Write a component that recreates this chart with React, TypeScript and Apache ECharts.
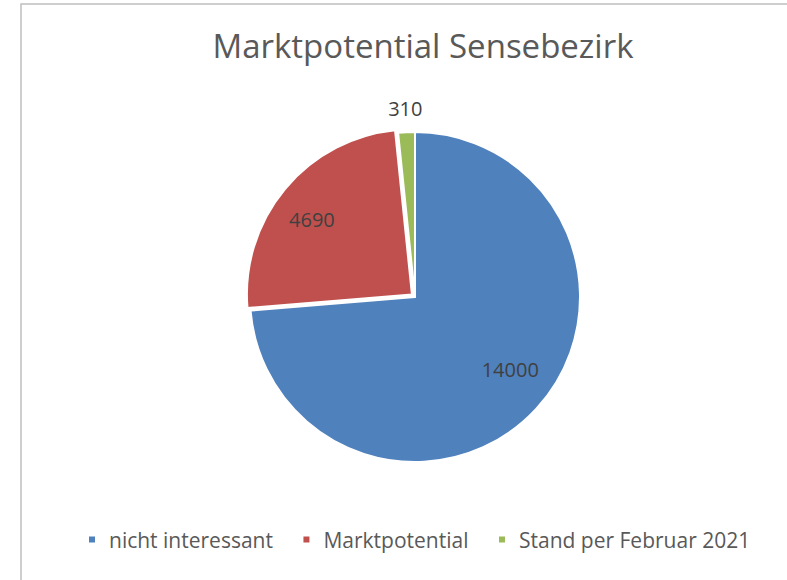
import React, { useEffect, useRef } from "react";
import * as echarts from "echarts";

const title = "Marktpotential Sensebezirk";
const categories = ["nicht interessant", "Marktpotential", "Stand per Februar 2021"];
const values = [14000, 4690, 310];
const colors = ["#4F81BD", "#C0504D", "#9BBB59"];
const insideLabelled = [true, true, false];

export default function App() {
  const ref = useRef<HTMLDivElement>(null);
  useEffect(() => {
    if (!ref.current) return;
    const chart = echarts.init(ref.current, undefined, { renderer: "svg" });
    const font = "'Open Sans', 'Noto Sans', sans-serif";
    const baseData = categories.map((name, i) => ({
      name,
      value: values[i],
      itemStyle: { color: colors[i] },
    }));
    const labelStyle = {
      position: "inside",
      formatter: "{c}",
      fontFamily: font,
      fontSize: 20,
      color: "#404040",
    };
    chart.setOption({
      animation: false,
      backgroundColor: "#ffffff",
      title: {
        text: title,
        left: 418,
        textAlign: "center",
        top: 24,
        textStyle: { fontFamily: font, fontSize: 33, fontWeight: "normal", color: "#595959" },
      },
      legend: {
        data: categories,
        bottom: 25,
        left: 82,
        icon: "rect",
        itemWidth: 8,
        itemHeight: 8,
        itemGap: 28.5,
        selectedMode: false,
        textStyle: { fontFamily: font, fontSize: 21, color: "#595959", padding: [0, 0, 0, 8] },
      },
      graphic: [
        {
          type: "rect",
          shape: { x: 21, y: 4, width: 800, height: 620 },
          style: { fill: "none", stroke: "#BFBFBF", lineWidth: 1.5 },
          silent: true,
        },
      ],
      series: [
        {
          type: "pie",
          center: [415, 297],
          radius: 165,
          startAngle: 90,
          clockwise: true,
          selectedMode: "multiple",
          selectedOffset: 4,
          label: { show: false },
          labelLine: { show: false },
          itemStyle: { borderColor: "#ffffff", borderWidth: 2 },
          emphasis: { disabled: true },
          data: baseData.map((d, i) => ({ ...d, selected: i === 1 })),
        },
        {
          type: "pie",
          center: [413, 292],
          radius: [78, 165],
          startAngle: 94,
          clockwise: true,
          silent: true,
          itemStyle: { color: "rgba(0,0,0,0)" },
          label: labelStyle,
          labelLine: { show: false },
          emphasis: { disabled: true },
          data: categories.map((name, i) => ({
            name,
            value: values[i],
            label: { show: insideLabelled[i] },
          })),
        },
        {
          type: "pie",
          center: [415, 297],
          radius: [176, 196],
          startAngle: 90,
          clockwise: true,
          silent: true,
          itemStyle: { color: "rgba(0,0,0,0)" },
          label: labelStyle,
          labelLine: { show: false },
          emphasis: { disabled: true },
          data: categories.map((name, i) => ({
            name,
            value: values[i],
            label: { show: !insideLabelled[i] },
          })),
        },
      ],
    });
    return () => chart.dispose();
  }, []);
  return (
    <div
      ref={ref}
      style={{ position: "fixed", left: 0, top: 0, width: 787, height: 580 }}
    />
  );
}
